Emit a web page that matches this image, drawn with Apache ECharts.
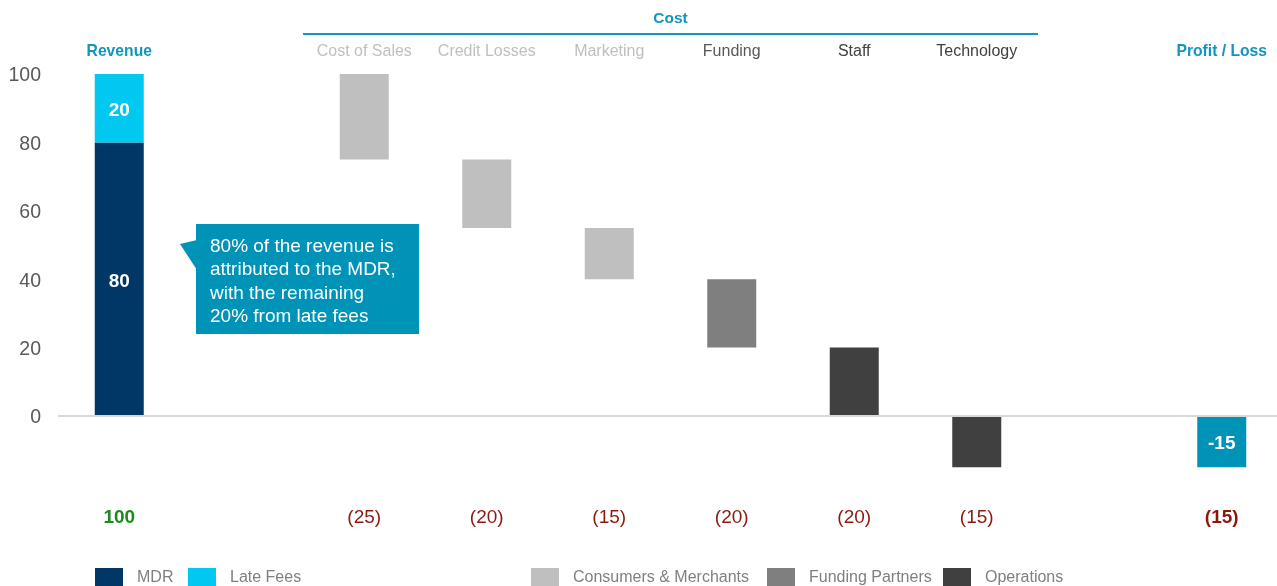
<!DOCTYPE html>
<html><head><meta charset="utf-8">
<script src="https://cdn.jsdelivr.net/npm/echarts@6/dist/echarts.min.js"></script>
<style>html,body{margin:0;padding:0;background:#fff}#c{width:1277px;height:586px}</style>
</head><body><div id="c"></div>
<script>
// ---- data ----
const categories = ['Revenue', 'gap1', 'Cost of Sales', 'Credit Losses', 'Marketing', 'Funding', 'Staff', 'Technology', 'gap2', 'Profit / Loss'];
const revenueNames = ['MDR', 'Late Fees'];
const revenueValues = [80, 20];
const costCategories = ['Cost of Sales', 'Credit Losses', 'Marketing', 'Funding', 'Staff', 'Technology'];
const costValues = [25, 20, 15, 20, 20, 15];
const costGroups = ['Consumers & Merchants', 'Consumers & Merchants', 'Consumers & Merchants', 'Funding Partners', 'Operations', 'Operations'];
const groupNames = ['Consumers & Merchants', 'Funding Partners', 'Operations'];
const yTicks = [0, 20, 40, 60, 80, 100];
const calloutLines = ['80% of the revenue is', 'attributed to the MDR,', 'with the remaining', '20% from late fees'];

// ---- styles ----
const FONT = '"Liberation Sans", Arial, sans-serif';
const colors = {
  'MDR': '#003767', 'Late Fees': '#00c8f0',
  'Consumers & Merchants': '#bfbfbf', 'Funding Partners': '#7f7f7f', 'Operations': '#404040',
  'Profit': '#0093b8'
};
const accent = '#1295bf';

// ---- derived waterfall ----
const n = categories.length;
const blank = () => new Array(n).fill('-');
const totalRevenue = revenueValues.reduce((a, b) => a + b, 0);
const base = blank();
const groupData = {};
groupNames.forEach(g => groupData[g] = blank());
let running = totalRevenue;
costCategories.forEach((c, i) => {
  const idx = categories.indexOf(c);
  const top = running, bottom = running - costValues[i];
  if (bottom >= 0) { base[idx] = bottom; groupData[costGroups[i]][idx] = costValues[i]; }
  else { base[idx] = top; groupData[costGroups[i]][idx] = -costValues[i]; }
  running = bottom;
});
const profit = running;
const revData = revenueNames.map((nm, i) => { const d = blank(); d[0] = revenueValues[i]; return d; });
const profitData = blank(); profitData[n - 1] = profit;

const bottomLabels = categories.map((c, i) => {
  if (i === 0) return '{pos|' + totalRevenue + '}';
  if (i === n - 1) return profit < 0 ? '{negb|(' + (-profit) + ')}' : '{posb|' + profit + '}';
  const k = costCategories.indexOf(c);
  return k >= 0 ? '{neg|(' + costValues[k] + ')}' : '';
});
const topStyle = ['hl', '', 'light', 'light', 'light', 'mid', 'dark', 'dark', '', 'hl'];

const barLabel = { show: true, position: 'inside', offset: [0, 2.5], color: '#fff', fontWeight: 'bold', fontSize: 19, fontFamily: FONT, formatter: '{c}' };
const BW = 49;

const series = [{
  name: 'base', type: 'bar', stack: 'w', barWidth: BW, data: base, silent: true,
  itemStyle: { color: 'rgba(0,0,0,0)' },
  markLine: { silent: true, symbol: ['none', 'none'], label: { show: false },
    lineStyle: { color: '#d9d9d9', width: 2, type: 'solid' }, data: [{ yAxis: 0 }], animation: false }
}];
revenueNames.forEach((nm, i) => series.push({ name: nm, type: 'bar', stack: 'w', barWidth: BW, data: revData[i], itemStyle: { color: colors[nm] }, label: barLabel }));
groupNames.forEach(g => series.push({ name: g, type: 'bar', stack: 'w', barWidth: BW, data: groupData[g], itemStyle: { color: colors[g] } }));
series.push({ name: 'Profit / Loss', type: 'bar', stack: 'w', barWidth: BW, data: profitData, itemStyle: { color: colors['Profit'] }, label: barLabel });

const legendPos = { 'MDR': 95, 'Late Fees': 188, 'Consumers & Merchants': 531, 'Funding Partners': 767, 'Operations': 943 };
const legends = Object.keys(legendPos).map(nm => ({
  data: [nm], left: legendPos[nm], top: 568, itemWidth: 28, itemHeight: 20, icon: 'rect',
  selectedMode: false, padding: 0,
  textStyle: { color: '#7f7f7f', fontSize: 16, fontFamily: FONT, padding: [2, 0, 0, 9] }
}));

const chart = echarts.init(document.getElementById('c'), null, { renderer: 'canvas' });
const GRID = { left: 58, top: 74, width: 1225, height: 410.4, outerBoundsMode: 'none', containLabel: false };
chart.setOption({
  animation: false,
  textStyle: { fontFamily: FONT },
  grid: GRID,
  legend: legends,
  xAxis: [{
    type: 'category', data: categories, position: 'top',
    axisLine: { show: false }, axisTick: { show: false },
    axisLabel: { interval: 0, margin: 14, fontFamily: FONT,
      formatter: (v, i) => topStyle[i] ? '{' + topStyle[i] + '|' + v + '}' : '',
      rich: {
        hl: { color: accent, fontWeight: 'bold', fontSize: 15.7, fontFamily: FONT },
        light: { color: '#bfbfbf', fontSize: 16, fontFamily: FONT },
        mid: { color: '#595959', fontSize: 16, fontFamily: FONT },
        dark: { color: '#404040', fontSize: 16, fontFamily: FONT }
      } }
  }, {
    type: 'category', data: categories, position: 'bottom',
    axisLine: { show: false, onZero: false }, axisTick: { show: false },
    axisLabel: { interval: 0, margin: 24, fontFamily: FONT,
      formatter: (v, i) => bottomLabels[i],
      rich: {
        pos: { color: '#1a8a1a', fontWeight: 'bold', fontSize: 19, fontFamily: FONT },
        posb: { color: '#1a8a1a', fontWeight: 'bold', fontSize: 19, fontFamily: FONT },
        neg: { color: '#8b1a0e', fontSize: 19, fontFamily: FONT },
        negb: { color: '#8b1a0e', fontWeight: 'bold', fontSize: 19, fontFamily: FONT }
      } }
  }],
  yAxis: {
    type: 'value', min: -20, max: 100, interval: 20,
    axisLine: { show: false }, axisTick: { show: false }, splitLine: { show: false },
    axisLabel: { margin: 17, fontFamily: FONT,
      formatter: v => yTicks.indexOf(v) >= 0 ? '{t|' + v + '}' : '',
      rich: { t: { color: '#595959', fontSize: 19.5, fontFamily: FONT, padding: [4, 0, 0, 0] } } }
  },
  series: series
});

// header bracket for Cost group, and callout
const band = GRID.width / n;
const xL = chart.convertToPixel({ xAxisIndex: 0 }, costCategories[0]) - band / 2;
const xR = chart.convertToPixel({ xAxisIndex: 0 }, costCategories[costCategories.length - 1]) + band / 2;
chart.setOption({
  graphic: [
    { type: 'line', shape: { x1: xL, y1: 34, x2: xR, y2: 34 }, style: { stroke: accent, lineWidth: 2 }, silent: true },
    { type: 'text', x: (xL + xR) / 2, y: 18.5, style: { text: 'Cost', fill: accent, font: 'bold 15.5px ' + FONT, textAlign: 'center', textVerticalAlign: 'middle' }, silent: true },
    { type: 'polygon', shape: { points: [[180, 244], [197, 240], [197, 270]] }, style: { fill: colors['Profit'] }, silent: true },
    { type: 'rect', shape: { x: 196, y: 224, width: 223, height: 110 }, style: { fill: colors['Profit'] }, silent: true },
    { type: 'text', x: 210, y: 235, style: { text: calloutLines.join('\n'), fill: '#fff', font: '19px ' + FONT, lineHeight: 23.5, textAlign: 'left', textVerticalAlign: 'top' }, silent: true }
  ]
});
</script></body></html>
